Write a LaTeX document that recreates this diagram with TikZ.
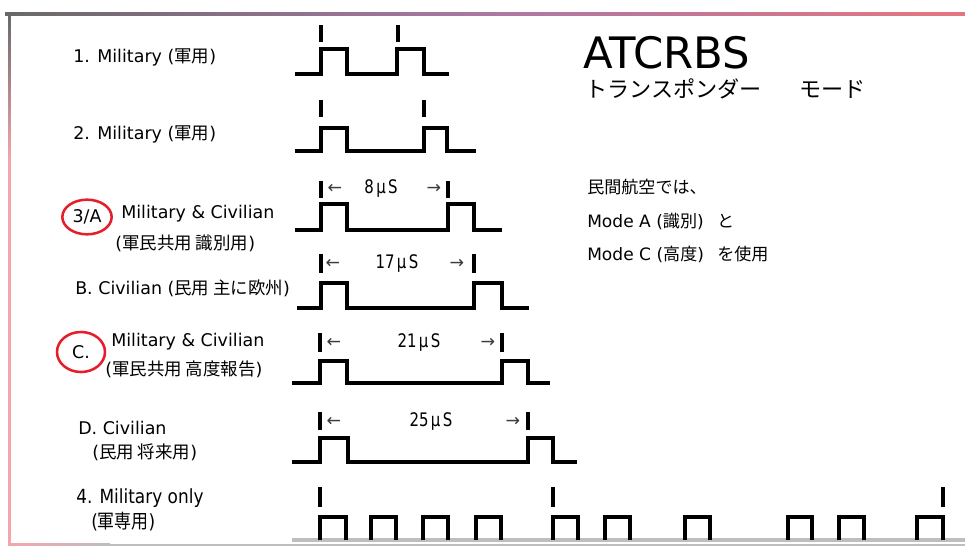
\documentclass[tikz,border=0pt]{standalone}
\usepackage{fontspec}
\usepackage{graphicx}
\usetikzlibrary{shapes.geometric}
\setmainfont{DejaVu Sans}
\newfontfamily\jp{Noto Sans CJK JP}
\newcommand{\J}[1]{{\jp #1}}
\definecolor{framegray}{RGB}{105,105,105}
\definecolor{framepurple}{RGB}{170,120,165}
\definecolor{framepink}{RGB}{228,118,128}
\definecolor{sidepink}{RGB}{245,165,172}
\definecolor{basegray}{RGB}{190,190,190}
\definecolor{ringred}{RGB}{228,30,42}
\definecolor{arrgray}{RGB}{60,60,60}
\tikzset{
  pulse/.style={line width=2.5pt, draw=black, line join=miter, line cap=butt},
  marker/.style={line width=2.5pt, draw=black},
  lbl/.style={anchor=west, inner sep=0pt, font=\fontsize{13.1}{15}\selectfont},
  narrowlbl/.style={anchor=west, inner sep=0pt, font=\fontsize{14.6}{16}\selectfont},
  uslbl/.style={inner sep=0pt, font=\fontsize{14}{15}\selectfont},
  arrlbl/.style={inner sep=0pt, text=arrgray, font=\fontsize{13}{14}\selectfont},
  ring/.style={ellipse, draw=ringred, line width=1.9pt, inner sep=0pt,
    font=\fontsize{13.1}{15}\selectfont},
  righttxt/.style={anchor=west, inner sep=0pt, font=\fontsize{12.8}{15}\selectfont},
}
\begin{document}
\begin{tikzpicture}[x=0.75pt,y=-0.75pt]
\useasboundingbox (0,0) rectangle (965,546);
\fill[white] (0,0) rectangle (965,546);
% frame
\shade[left color=framegray, right color=framepink, middle color=framepurple] (5,12.8) rectangle (965,15.6);
\shade[top color=framegray, bottom color=sidepink] (8,14) rectangle (10.6,160);
\fill[sidepink] (8,160) rectangle (10.6,546);
\shade[left color=sidepink, right color=basegray] (8,543.6) rectangle (110,546);
\fill[basegray] (110,543.6) rectangle (965,546);

% titles
\node[anchor=west, inner sep=0pt, font=\fontsize{32.5}{34}\selectfont] (title) at (583,53) {ATCRBS};
\node[anchor=west, inner sep=0pt, font=\fontsize{16.6}{18}\selectfont\jp] (subtitle) at (585,89) {トランスポンダー\hspace{28pt}モード};
\node[righttxt] (r1) at (587,187) {\J{民間航空では、}};
\node[righttxt] (r2) at (587,221) {Mode A (\J{識別})\hspace{10pt}\J{と}};
\node[righttxt] (r3) at (587,254) {Mode C (\J{高度})\hspace{10pt}\J{を使用}};

% labels
\node[lbl] (l1) at (73,57) {1. Military (\J{軍用})};
\node[lbl] (l2) at (73,134) {2. Military (\J{軍用})};
\node[ring, minimum width=37pt, minimum height=26pt] (m3a) at (87,217) {3/A};
\node[lbl] (l3a) at (121,214) {Military \& Civilian};
\node[lbl] (l3b) at (115,243) {(\J{軍民共用 識別用})};
\node[lbl] (lb) at (75,288) {B. Civilian (\J{民用 主に欧州})};
\node[ring, minimum width=36pt, minimum height=30pt] (mc) at (81,352) {C.};
\node[lbl] (lc1) at (111,342) {Military \& Civilian};
\node[lbl] (lc2) at (105,369) {(\J{軍民共用 高度報告})};
\node[lbl] (ld1) at (78,428) {D. Civilian};
\node[lbl] (ld2) at (92,452) {(\J{民用 将来用})};
\node[narrowlbl] (l41) at (76,498) {\scalebox{0.87}[1]{4. Military only}};
\node[narrowlbl] (l42) at (91,522) {\scalebox{0.87}[1]{(\J{軍専用})}};

% row 1
\draw[pulse] (295,74) -| (321,49) -| (347,74) -| (397,49) -| (424,74) -- (449,74);
\draw[marker] (321,25) -- (321,42);
\draw[marker] (398,25) -- (398,42);
% row 2
\draw[pulse] (295,151) -| (321,128) -| (347,151) -| (424,128) -| (447,151) -- (476,151);
\draw[marker] (321,100) -- (321,117);
\draw[marker] (424,100) -- (424,117);
% row 3/A
\draw[pulse] (295,230) -| (321,204) -| (347,230) -| (448,204) -| (474,230) -- (502,230);
\draw[marker] (321,181) -- (321,198);
\draw[marker] (448,181) -- (448,198);
\node[arrlbl] (a3l) at (335,189) {←};
\node[uslbl] (u3) at (381,189) {\scalebox{0.8}[1]{8\,μ\,S}};
\node[arrlbl] (a3r) at (434,189) {→};
% row B
\draw[pulse] (297,308) -| (321,283) -| (347,308) -| (474,283) -| (502,308) -- (529,308);
\draw[marker] (321,254) -- (321,273);
\draw[marker] (474,254) -- (474,273);
\node[arrlbl] (abl) at (333,264) {←};
\node[uslbl] (ub) at (397,264) {\scalebox{0.8}[1]{17\,μ\,S}};
\node[arrlbl] (abr) at (457,264) {→};
% row C
\draw[pulse] (292,383) -| (320,361) -| (347,383) -| (502,361) -| (528,383) -- (550,383);
\draw[marker] (320,333) -- (320,352);
\draw[marker] (502,333) -- (502,352);
\node[arrlbl] (acl) at (334,343) {←};
\node[uslbl] (uc) at (419,343) {\scalebox{0.8}[1]{21\,μ\,S}};
\node[arrlbl] (acr) at (488,343) {→};
% row D
\draw[pulse] (292,462) -| (320,438) -| (348,462) -| (528,438) -| (553,462) -- (577,462);
\draw[marker] (320,412) -- (320,430);
\draw[marker] (528,412) -- (528,430);
\node[arrlbl] (adl) at (334,422) {←};
\node[uslbl] (ud) at (431,422) {\scalebox{0.8}[1]{25\,μ\,S}};
\node[arrlbl] (adr) at (513,422) {→};
% row 4
\draw[line width=2.5pt, draw=basegray] (292,540) -- (965,540);
\foreach \r/\f in {320/346,371/396,423/448,476/501,553/578,605/630,685/710,788/812,839/864,917/943}{
  \draw[pulse] (\r,540) |- (\f,517) -- (\f,540);
}
\draw[marker] (320,487) -- (320,507);
\draw[marker] (553,487) -- (553,507);
\draw[marker] (943,487) -- (943,507);
\end{tikzpicture}
\end{document}
